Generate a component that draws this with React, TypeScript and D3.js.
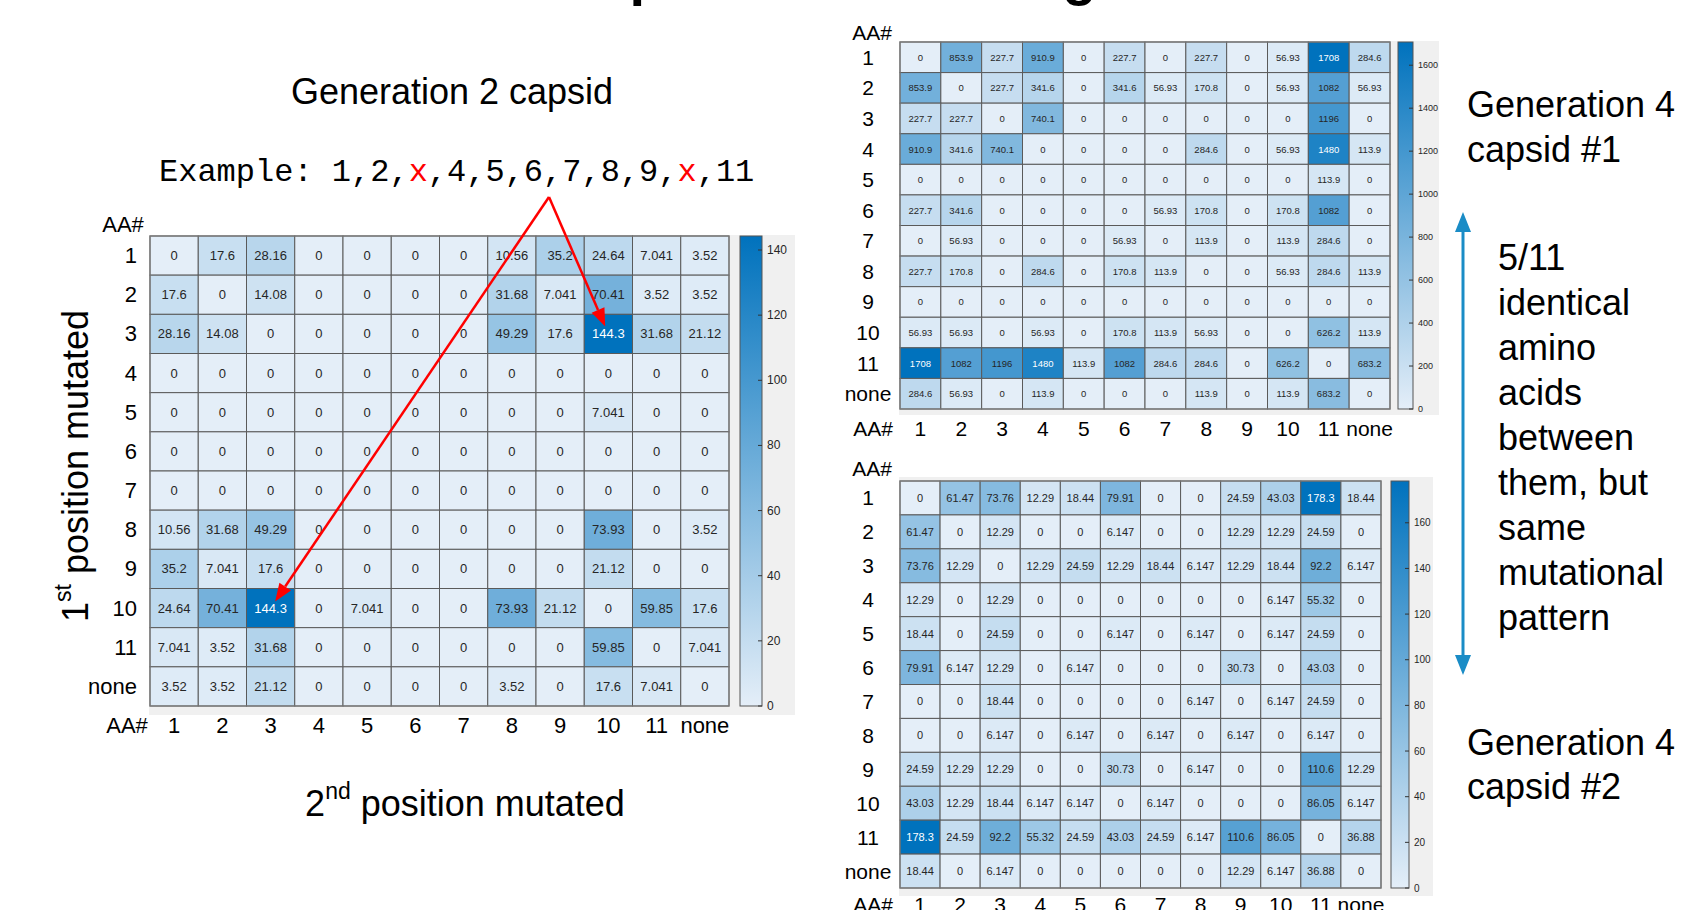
import React from 'react';
import * as d3 from 'd3';

const categories = ['1', '2', '3', '4', '5', '6', '7', '8', '9', '10', '11', 'none'];

const gen2Values: number[][] = [
  [0, 17.6, 28.16, 0, 0, 0, 0, 10.56, 35.2, 24.64, 7.041, 3.52],
  [17.6, 0, 14.08, 0, 0, 0, 0, 31.68, 7.041, 70.41, 3.52, 3.52],
  [28.16, 14.08, 0, 0, 0, 0, 0, 49.29, 17.6, 144.3, 31.68, 21.12],
  [0, 0, 0, 0, 0, 0, 0, 0, 0, 0, 0, 0],
  [0, 0, 0, 0, 0, 0, 0, 0, 0, 7.041, 0, 0],
  [0, 0, 0, 0, 0, 0, 0, 0, 0, 0, 0, 0],
  [0, 0, 0, 0, 0, 0, 0, 0, 0, 0, 0, 0],
  [10.56, 31.68, 49.29, 0, 0, 0, 0, 0, 0, 73.93, 0, 3.52],
  [35.2, 7.041, 17.6, 0, 0, 0, 0, 0, 0, 21.12, 0, 0],
  [24.64, 70.41, 144.3, 0, 7.041, 0, 0, 73.93, 21.12, 0, 59.85, 17.6],
  [7.041, 3.52, 31.68, 0, 0, 0, 0, 0, 0, 59.85, 0, 7.041],
  [3.52, 3.52, 21.12, 0, 0, 0, 0, 3.52, 0, 17.6, 7.041, 0],
];

const gen4aValues: number[][] = [
  [0, 853.9, 227.7, 910.9, 0, 227.7, 0, 227.7, 0, 56.93, 1708, 284.6],
  [853.9, 0, 227.7, 341.6, 0, 341.6, 56.93, 170.8, 0, 56.93, 1082, 56.93],
  [227.7, 227.7, 0, 740.1, 0, 0, 0, 0, 0, 0, 1196, 0],
  [910.9, 341.6, 740.1, 0, 0, 0, 0, 284.6, 0, 56.93, 1480, 113.9],
  [0, 0, 0, 0, 0, 0, 0, 0, 0, 0, 113.9, 0],
  [227.7, 341.6, 0, 0, 0, 0, 56.93, 170.8, 0, 170.8, 1082, 0],
  [0, 56.93, 0, 0, 0, 56.93, 0, 113.9, 0, 113.9, 284.6, 0],
  [227.7, 170.8, 0, 284.6, 0, 170.8, 113.9, 0, 0, 56.93, 284.6, 113.9],
  [0, 0, 0, 0, 0, 0, 0, 0, 0, 0, 0, 0],
  [56.93, 56.93, 0, 56.93, 0, 170.8, 113.9, 56.93, 0, 0, 626.2, 113.9],
  [1708, 1082, 1196, 1480, 113.9, 1082, 284.6, 284.6, 0, 626.2, 0, 683.2],
  [284.6, 56.93, 0, 113.9, 0, 0, 0, 113.9, 0, 113.9, 683.2, 0],
];

const gen4bValues: number[][] = [
  [0, 61.47, 73.76, 12.29, 18.44, 79.91, 0, 0, 24.59, 43.03, 178.3, 18.44],
  [61.47, 0, 12.29, 0, 0, 6.147, 0, 0, 12.29, 12.29, 24.59, 0],
  [73.76, 12.29, 0, 12.29, 24.59, 12.29, 18.44, 6.147, 12.29, 18.44, 92.2, 6.147],
  [12.29, 0, 12.29, 0, 0, 0, 0, 0, 0, 6.147, 55.32, 0],
  [18.44, 0, 24.59, 0, 0, 6.147, 0, 6.147, 0, 6.147, 24.59, 0],
  [79.91, 6.147, 12.29, 0, 6.147, 0, 0, 0, 30.73, 0, 43.03, 0],
  [0, 0, 18.44, 0, 0, 0, 0, 6.147, 0, 6.147, 24.59, 0],
  [0, 0, 6.147, 0, 6.147, 0, 6.147, 0, 6.147, 0, 6.147, 0],
  [24.59, 12.29, 12.29, 0, 0, 30.73, 0, 6.147, 0, 0, 110.6, 12.29],
  [43.03, 12.29, 18.44, 6.147, 6.147, 0, 6.147, 0, 0, 0, 86.05, 6.147],
  [178.3, 24.59, 92.2, 55.32, 24.59, 43.03, 24.59, 6.147, 110.6, 86.05, 0, 36.88],
  [18.44, 0, 6.147, 0, 0, 0, 0, 0, 12.29, 6.147, 36.88, 0],
];

const gen2Ticks = [0, 20, 40, 60, 80, 100, 120, 140];
const gen4aTicks = [0, 200, 400, 600, 800, 1000, 1200, 1400, 1600];
const gen4bTicks = [0, 20, 40, 60, 80, 100, 120, 140, 160];

const exampleParts = [
  { t: 'Example: 1,2,', red: false },
  { t: 'x', red: true },
  { t: ',4,5,6,7,8,9,', red: false },
  { t: 'x', red: true },
  { t: ',11', red: false },
];
const arrowTargets = [
  { row: '3', col: '10' },
  { row: '10', col: '3' },
];
const descriptionLines = ['5/11', 'identical', 'amino', 'acids', 'between', 'them, but', 'same', 'mutational', 'pattern'];

const SANS = '"Liberation Sans", Arial, Helvetica, sans-serif';
const MONO = '"Courier New", "Liberation Mono", monospace';
const LOW = '#e4eef8';
const HIGH = '#0072bd';

type HMProps = {
  id: string;
  values: number[][];
  ticks: number[];
  gx: number; gy: number; gw: number; gh: number;
  cbX: number; cbW: number;
  bg: [number, number, number, number];
  cellFont: number; tickFont: number; labelFont: number;
  rowLabelX: number; rowAnchor: 'end' | 'middle';
  colLabelY: number;
  topAA: [number, number];
  botAAx: number;
};

function Heatmap(p: HMProps) {
  const x = d3.scaleBand<string>().domain(categories).range([p.gx, p.gx + p.gw]);
  const y = d3.scaleBand<string>().domain(categories).range([p.gy, p.gy + p.gh]);
  const max = d3.max(p.values.flat()) ?? 1;
  const color = d3.scaleLinear<string>().domain([0, max]).range([LOW, HIGH]).interpolate(d3.interpolateRgb);
  const cb = d3.scaleLinear().domain([0, max]).range([p.gy + p.gh, p.gy]);
  const [bx1, by1, bx2, by2] = p.bg;
  return (
    <g>
      <rect x={bx1} y={by1} width={bx2 - bx1} height={by2 - by1} fill="#f0f0f0" />
      {p.values.map((row, i) =>
        row.map((v, j) => (
          <g key={`${i}-${j}`}>
            <rect
              x={x(categories[j])}
              y={y(categories[i])}
              width={x.bandwidth()}
              height={y.bandwidth()}
              fill={color(v)}
              stroke="#5a5a5a"
              strokeWidth={1}
            />
            <text
              x={(x(categories[j]) ?? 0) + x.bandwidth() / 2}
              y={(y(categories[i]) ?? 0) + y.bandwidth() / 2}
              textAnchor="middle"
              dominantBaseline="central"
              fontSize={p.cellFont}
              fontFamily={SANS}
              fill={v / max > 0.8 ? '#ffffff' : '#262626'}
            >
              {String(v)}
            </text>
          </g>
        ))
      )}
      <rect x={p.gx} y={p.gy} width={p.gw} height={p.gh} fill="none" stroke="#7a7a7a" strokeWidth={1.2} />
      {/* colorbar */}
      <defs>
        <linearGradient id={p.id} x1="0" y1="1" x2="0" y2="0">
          <stop offset="0" stopColor={color(0)} />
          <stop offset="1" stopColor={color(max)} />
        </linearGradient>
      </defs>
      <rect x={p.cbX} y={cb(max)} width={p.cbW} height={cb(0) - cb(max)} fill={`url(#${p.id})`} stroke="#555" strokeWidth={1} />
      {p.ticks.map((t) => (
        <g key={t}>
          <line x1={p.cbX + p.cbW - 4} x2={p.cbX + p.cbW} y1={cb(t)} y2={cb(t)} stroke="#333" strokeWidth={1} />
          <text
            x={p.cbX + p.cbW + 5}
            y={cb(t)}
            dominantBaseline="central"
            fontSize={p.tickFont}
            fontFamily={SANS}
            fill="#262626"
          >
            {t}
          </text>
        </g>
      ))}
      {/* row labels */}
      {categories.map((c) => (
        <text
          key={'r' + c}
          x={p.rowLabelX}
          y={(y(c) ?? 0) + y.bandwidth() / 2}
          textAnchor={p.rowAnchor}
          dominantBaseline="central"
          fontSize={p.labelFont}
          fontFamily={SANS}
          fill="#000"
        >
          {c}
        </text>
      ))}
      {/* column labels */}
      {categories.map((c) => (
        <text
          key={'c' + c}
          x={(x(c) ?? 0) + x.bandwidth() / 2}
          y={p.colLabelY}
          textAnchor="middle"
          dominantBaseline="central"
          fontSize={p.labelFont}
          fontFamily={SANS}
          fill="#000"
        >
          {c}
        </text>
      ))}
      <text x={p.topAA[0]} y={p.topAA[1]} textAnchor="middle" dominantBaseline="central" fontSize={p.labelFont} fontFamily={SANS}>
        AA#
      </text>
      <text x={p.botAAx} y={p.colLabelY} textAnchor="middle" dominantBaseline="central" fontSize={p.labelFont} fontFamily={SANS}>
        AA#
      </text>
    </g>
  );
}

function Arrow({ x1, y1, x2, y2, color, width, headLen, headW }: { x1: number; y1: number; x2: number; y2: number; color: string; width: number; headLen: number; headW: number }) {
  const dx = x2 - x1;
  const dy = y2 - y1;
  const len = Math.hypot(dx, dy);
  const ux = dx / len;
  const uy = dy / len;
  const bx = x2 - ux * headLen;
  const by = y2 - uy * headLen;
  const px = -uy * headW / 2;
  const py = ux * headW / 2;
  return (
    <g>
      <line x1={x1} y1={y1} x2={bx} y2={by} stroke={color} strokeWidth={width} />
      <polygon points={`${x2},${y2} ${bx + px},${by + py} ${bx - px},${by - py}`} fill={color} />
    </g>
  );
}

export default function App() {
  // geometry of the generation 2 heatmap (used for arrows too)
  const g2 = { gx: 150, gy: 236, gw: 579, gh: 470 };
  const g2x = d3.scaleBand<string>().domain(categories).range([g2.gx, g2.gx + g2.gw]);
  const g2y = d3.scaleBand<string>().domain(categories).range([g2.gy, g2.gy + g2.gh]);
  const origin = { x: 549, y: 197 };

  return (
    <svg
      width={1681}
      height={910}
      style={{ position: 'absolute', left: 0, top: 0, display: 'block', background: '#fff' }}
    >
      <rect x={0} y={0} width={1681} height={910} fill="#fff" />
      {/* cut-off slide title */}
      <text x={334} y={-6} fontSize={56} fontWeight="bold" fontFamily={SANS} fill="#000">
        Mutational patterns across generations
      </text>

      {/* Left panel */}
      <text x={452} y={91} textAnchor="middle" dominantBaseline="central" fontSize={36} fontFamily={SANS}>
        Generation 2 capsid
      </text>
      <text x={159} y={172} dominantBaseline="central" fontSize={32} fontFamily={MONO} fill="#000">
        {exampleParts.map((p, i) => (
          <tspan key={i} fill={p.red ? '#ff0000' : '#000'}>
            {p.t}
          </tspan>
        ))}
      </text>

      <Heatmap
        id="g2grad"
        values={gen2Values}
        ticks={gen2Ticks}
        {...g2}
        cbX={740}
        cbW={22}
        bg={[149, 235, 795, 715]}
        cellFont={13}
        tickFont={12}
        labelFont={22}
        rowLabelX={137}
        rowAnchor="end"
        colLabelY={725}
        topAA={[123, 224]}
        botAAx={127}
      />

      <text
        transform="translate(75,466) rotate(-90)"
        textAnchor="middle"
        dominantBaseline="central"
        fontSize={36}
        fontFamily={SANS}
      >
        <tspan>1</tspan>
        <tspan fontSize={23} dy={-12}>st</tspan>
        <tspan dy={12}> position mutated</tspan>
      </text>
      <text x={465} y={803} textAnchor="middle" dominantBaseline="central" fontSize={36} fontFamily={SANS}>
        <tspan>2</tspan>
        <tspan fontSize={23} dy={-12}>nd</tspan>
        <tspan dy={12}> position mutated</tspan>
      </text>

      {arrowTargets.map((a, i) => {
        const cx = (g2x(a.col) ?? 0) + g2x.bandwidth() / 2;
        const cy = (g2y(a.row) ?? 0) + g2y.bandwidth() / 2;
        const dx = origin.x - cx;
        const dy = origin.y - cy;
        const l = Math.hypot(dx, dy);
        return (
          <Arrow
            key={i}
            x1={origin.x}
            y1={origin.y}
            x2={cx + (dx / l) * 8}
            y2={cy + (dy / l) * 8}
            color="#ff0000"
            width={2.5}
            headLen={18}
            headW={14}
          />
        );
      })}

      {/* Top right heatmap */}
      <Heatmap
        id="g4agrad"
        values={gen4aValues}
        ticks={gen4aTicks}
        gx={900}
        gy={42}
        gw={490}
        gh={367}
        cbX={1398}
        cbW={15}
        bg={[899, 41, 1439, 415]}
        cellFont={9.5}
        tickFont={9}
        labelFont={21}
        rowLabelX={868}
        rowAnchor="middle"
        colLabelY={428}
        topAA={[872, 32]}
        botAAx={873}
      />

      {/* Bottom right heatmap */}
      <Heatmap
        id="g4bgrad"
        values={gen4bValues}
        ticks={gen4bTicks}
        gx={900}
        gy={481}
        gw={481}
        gh={407}
        cbX={1391}
        cbW={18}
        bg={[899, 477, 1433, 896]}
        cellFont={11}
        tickFont={10}
        labelFont={21}
        rowLabelX={868}
        rowAnchor="middle"
        colLabelY={904}
        topAA={[872, 468]}
        botAAx={873}
      />

      {/* Right-side annotations */}
      <text x={1467} y={104} dominantBaseline="central" fontSize={36} fontFamily={SANS}>Generation 4</text>
      <text x={1467} y={149} dominantBaseline="central" fontSize={36} fontFamily={SANS}>capsid #1</text>
      <text x={1467} y={742} dominantBaseline="central" fontSize={36} fontFamily={SANS}>Generation 4</text>
      <text x={1467} y={786} dominantBaseline="central" fontSize={36} fontFamily={SANS}>capsid #2</text>

      <Arrow x1={1463} y1={443} x2={1463} y2={212} color="#1a8cc6" width={3} headLen={20} headW={16} />
      <Arrow x1={1463} y1={443} x2={1463} y2={675} color="#1a8cc6" width={3} headLen={20} headW={16} />

      {descriptionLines.map((l, i) => (
        <text key={l} x={1498} y={257 + i * 45} dominantBaseline="central" fontSize={36} fontFamily={SANS}>
          {l}
        </text>
      ))}
    </svg>
  );
}
